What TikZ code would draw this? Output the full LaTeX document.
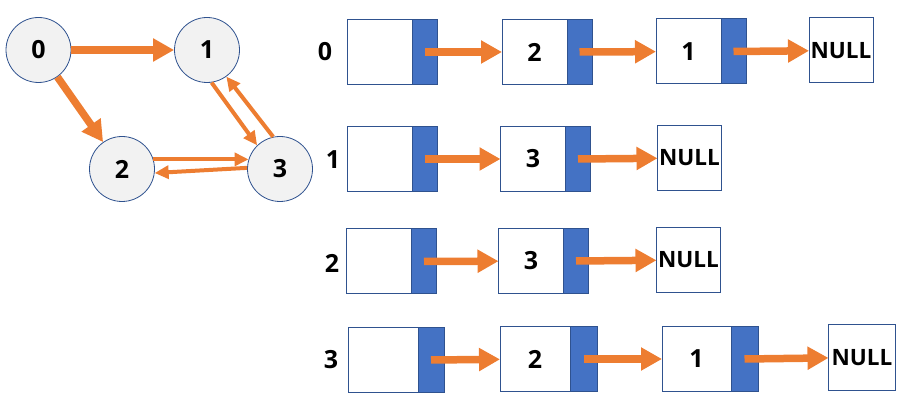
\documentclass[tikz,border=0pt]{standalone}
\usepackage{fontspec}
\setmainfont{Open Sans}
\usetikzlibrary{arrows.meta,positioning}

\definecolor{edgeorange}{HTML}{ED7D31}
\definecolor{ptrblue}{HTML}{4472C4}
\definecolor{rimblue}{HTML}{2F528F}
\definecolor{vertexgray}{HTML}{F2F2F2}

\newcommand{\labelfont}{\fontsize{25}{29}\selectfont\bfseries}
\newcommand{\nulltextfont}{\fontsize{22.5}{26}\selectfont\bfseries}

\tikzset{
  vertex/.style={circle, draw=rimblue, line width=0.8pt, fill=vertexgray,
    minimum size=65pt, inner sep=0pt, font=\labelfont},
  cell/.style={rectangle, draw=rimblue, line width=1pt, fill=white,
    minimum width=65pt, minimum height=65pt, inner sep=0pt, outer sep=0pt,
    font=\labelfont},
  ptr/.style={rectangle, draw=rimblue, line width=1pt, fill=ptrblue,
    minimum width=25pt, minimum height=65pt, inner sep=0pt, outer sep=0pt},
  nullbox/.style={cell, minimum width=64pt, font=\nulltextfont},
  index/.style={font=\labelfont, inner sep=0pt},
  link/.style={draw=edgeorange, line width=7.5pt,
    -{Triangle[length=21pt,width=22pt]}},
  thinlink/.style={draw=edgeorange, line width=4pt,
    -{Triangle[length=14pt,width=13pt]}},
}

\begin{document}
\begin{tikzpicture}[x=1pt, y=-1pt]
    \useasboundingbox (0,0) rectangle (916,403);

    % Directed graph
    \node[vertex] (v0) at (38.5,50) {0};
    \node[vertex] (v1) at (207,50) {1};
    \node[vertex] (v2) at (122,169) {2};
    \node[vertex] (v3) at (280,169) {3};

    \draw[link] (v0) -- (v1);
    \draw[link] (v0) -- (v2);
    \draw[thinlink] (v1.-82) -- (v3.134);
    \draw[thinlink] (v3.102) -- (v1.-54);
    \draw[thinlink] (v2.17) -- (v3.163);
    \draw[thinlink] (v3.178) -- (v2.-7);

    % Adjacency list, row 0
    \node[index] (i0) at (325,52) {0};
    \node[cell] (l0h) at (380,52) {};
    \node[ptr, right=0pt of l0h] (l0hp) {};
    \node[cell] (l0a) at (534.5,52) {2};
    \node[ptr, right=0pt of l0a] (l0ap) {};
    \node[cell] (l0b) at (688.5,51.5) {1};
    \node[ptr, right=0pt of l0b] (l0bp) {};
    \node[nullbox] (l0n) at (841,50.5) {NULL};
    \draw[link] (l0hp.center) -- (l0a);
    \draw[link] (l0ap.center) -- (l0b);
    \draw[link] (l0bp.center) -- (l0n);

    % Adjacency list, row 1
    \node[index] (i1) at (333,160) {1};
    \node[cell] (l1h) at (379.5,159) {};
    \node[ptr, right=0pt of l1h] (l1hp) {};
    \node[cell] (l1a) at (533,159) {3};
    \node[ptr, right=0pt of l1a] (l1ap) {};
    \node[nullbox] (l1n) at (689.5,158) {NULL};
    \draw[link] (l1hp.center) -- (l1a);
    \draw[link] (l1ap.center) -- (l1n);

    % Adjacency list, row 2
    \node[index] (i2) at (332,263) {2};
    \node[cell] (l2h) at (379,261.5) {};
    \node[ptr, right=0pt of l2h] (l2hp) {};
    \node[cell] (l2a) at (531,261) {3};
    \node[ptr, right=0pt of l2a] (l2ap) {};
    \node[nullbox] (l2n) at (688.5,260) {NULL};
    \draw[link] (l2hp.center) -- (l2a);
    \draw[link] (l2ap.center) -- (l2n);

    % Adjacency list, row 3
    \node[index] (i3) at (331,360) {3};
    \node[cell, minimum width=70pt] (l3h) at (383,360) {};
    \node[ptr, minimum width=26pt, right=0pt of l3h] (l3hp) {};
    \node[cell, minimum width=70pt] (l3a) at (535,359) {2};
    \node[ptr, minimum width=27pt, right=0pt of l3a] (l3ap) {};
    \node[cell, minimum width=69pt] (l3b) at (696.5,359) {1};
    \node[ptr, minimum width=27pt, right=0pt of l3b] (l3bp) {};
    \node[nullbox, minimum width=67pt] (l3n) at (862,357.5) {NULL};
    \draw[link] (l3hp.center) -- (l3a);
    \draw[link] (l3ap.center) -- (l3b);
    \draw[link] (l3bp.center) -- (l3n);
\end{tikzpicture}
\end{document}
